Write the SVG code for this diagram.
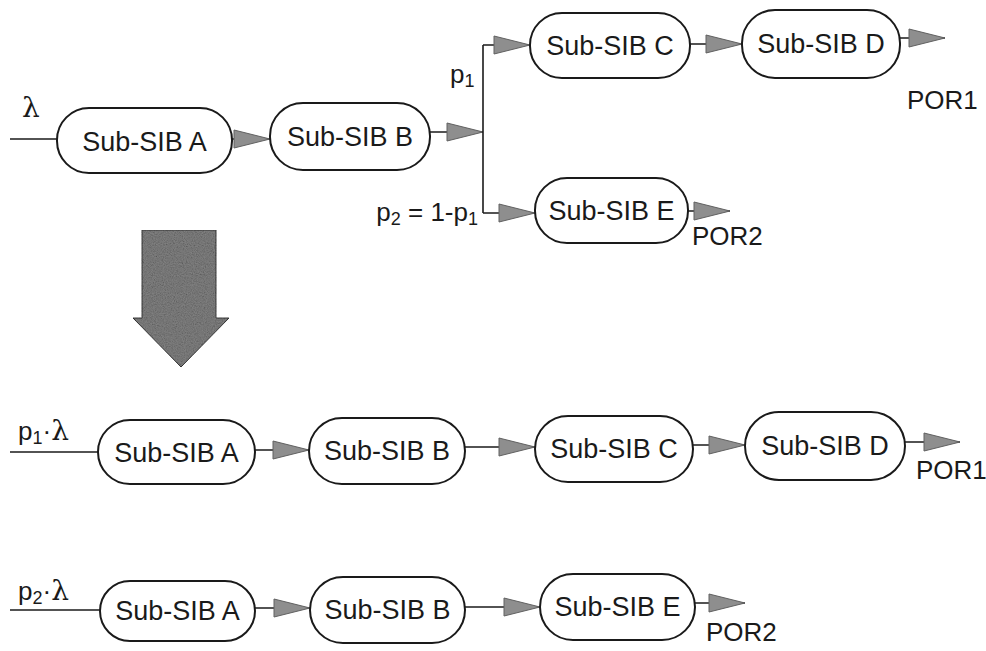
<svg xmlns="http://www.w3.org/2000/svg" width="986" height="651" viewBox="0 0 986 651">
<style>
.node rect{fill:#fff;stroke:#1a1a1a;stroke-width:2}
.node text{font-family:"Liberation Sans",Arial,sans-serif;font-size:27px;fill:#1a1a1a;text-anchor:middle;dominant-baseline:central}
.conn line,.conn polyline{stroke:#1a1a1a;stroke-width:1.6;fill:none}
.arr{marker-end:url(#ah)}
.lbl{font-family:"Liberation Sans",Arial,sans-serif;font-size:26px;fill:#1a1a1a}
.lam{font-family:"DejaVu Serif","Liberation Serif",serif;font-size:28px;fill:#1a1a1a}
</style>
<defs>
<marker id="ah" markerUnits="userSpaceOnUse" markerWidth="42" markerHeight="22" refX="37" refY="10" orient="auto">
<path d="M1,1 L37,10 L1,19 Z" fill="#8e8e8e" stroke="#606060" stroke-width="1"/>
</marker>
<filter id="grain" x="0" y="0" width="1" height="1">
<feTurbulence type="fractalNoise" baseFrequency="0.9" numOctaves="2" seed="3" result="n"/>
<feColorMatrix in="n" type="saturate" values="0" result="g"/>
<feComposite in="g" in2="SourceGraphic" operator="in" result="gi"/>
<feBlend in="SourceGraphic" in2="gi" mode="multiply"/>
</filter>
</defs>

<!-- big arrow -->
<g id="bigArrow">
<polygon points="142,230 216,230 216,318 229,318 181,367 133,318 142,318" fill="#858585" stroke="#3a3a3a" stroke-width="1" filter="url(#grain)"/>
</g>

<g class="conn" id="connectors">
<!-- row 1 -->
<line x1="10" y1="139" x2="57" y2="139"/>
<line class="arr" x1="232" y1="139" x2="270" y2="139"/>
<line class="arr" x1="430" y1="132" x2="483" y2="132"/>
<polyline points="483,45 483,213"/>
<line class="arr" x1="483" y1="45" x2="530" y2="45"/>
<line class="arr" x1="483" y1="213" x2="535" y2="213"/>
<line class="arr" x1="690" y1="44" x2="742" y2="44"/>
<line class="arr" x1="900" y1="38" x2="945" y2="38"/>
<line class="arr" x1="688" y1="211" x2="730" y2="211"/>
<!-- row 2 -->
<line x1="10" y1="452" x2="98" y2="452"/>
<line class="arr" x1="255" y1="450" x2="309" y2="450"/>
<line class="arr" x1="465" y1="447" x2="535" y2="447"/>
<line class="arr" x1="693" y1="445" x2="745" y2="445"/>
<line class="arr" x1="905" y1="442" x2="960" y2="442"/>
<!-- row 3 -->
<line x1="10" y1="610" x2="100" y2="610"/>
<line class="arr" x1="255" y1="608" x2="310" y2="608"/>
<line class="arr" x1="465" y1="607" x2="540" y2="607"/>
<line class="arr" x1="695" y1="603" x2="745" y2="603"/>
</g>

<!-- row 1 nodes -->
<g class="node" id="r1A"><rect x="57" y="108" width="175" height="65" rx="32" ry="32"/><text x="144.5" y="142">Sub-SIB A</text></g>
<g class="node" id="r1B"><rect x="270" y="103" width="160" height="67" rx="33" ry="33"/><text x="350" y="137">Sub-SIB B</text></g>
<g class="node" id="r1C"><rect x="530" y="13" width="160" height="65" rx="32" ry="32"/><text x="610" y="46">Sub-SIB C</text></g>
<g class="node" id="r1D"><rect x="742" y="10" width="158" height="68" rx="33" ry="33"/><text x="821" y="44">Sub-SIB D</text></g>
<g class="node" id="r1E"><rect x="535" y="178" width="153" height="65" rx="32" ry="32"/><text x="611.5" y="211">Sub-SIB E</text></g>

<!-- row 2 nodes -->
<g class="node" id="r2A"><rect x="98" y="420" width="157" height="64" rx="32" ry="32"/><text x="176.5" y="453">Sub-SIB A</text></g>
<g class="node" id="r2B"><rect x="309" y="418" width="156" height="66" rx="33" ry="33"/><text x="387" y="451">Sub-SIB B</text></g>
<g class="node" id="r2C"><rect x="535" y="416" width="158" height="66" rx="33" ry="33"/><text x="614" y="449">Sub-SIB C</text></g>
<g class="node" id="r2D"><rect x="745" y="412" width="160" height="68" rx="34" ry="34"/><text x="825" y="446">Sub-SIB D</text></g>

<!-- row 3 nodes -->
<g class="node" id="r3A"><rect x="100" y="581" width="155" height="60" rx="30" ry="30"/><text x="177.5" y="611">Sub-SIB A</text></g>
<g class="node" id="r3B"><rect x="310" y="577" width="155" height="66" rx="33" ry="33"/><text x="387.5" y="610">Sub-SIB B</text></g>
<g class="node" id="r3E"><rect x="540" y="574" width="155" height="66" rx="33" ry="33"/><text x="617.5" y="607">Sub-SIB E</text></g>

<!-- labels -->
<g id="labels">
<text class="lam" x="22" y="117">λ</text>
<text class="lbl" x="450" y="83">p<tspan font-size="18" dy="4">1</tspan></text>
<text class="lbl" x="478" y="221" text-anchor="end">p<tspan font-size="18" dy="4">2</tspan><tspan dy="-4"> = 1-p</tspan><tspan font-size="18" dy="4">1</tspan></text>
<text class="lbl" x="907" y="109">POR1</text>
<text class="lbl" x="692" y="245">POR2</text>
<text class="lbl" x="18" y="440">p<tspan font-size="18" dy="4">1</tspan><tspan dy="-4">·</tspan><tspan class="lam">λ</tspan></text>
<text class="lbl" x="916" y="479">POR1</text>
<text class="lbl" x="18" y="600">p<tspan font-size="18" dy="4">2</tspan><tspan dy="-4">·</tspan><tspan class="lam">λ</tspan></text>
<text class="lbl" x="706" y="641">POR2</text>
</g>
</svg>
